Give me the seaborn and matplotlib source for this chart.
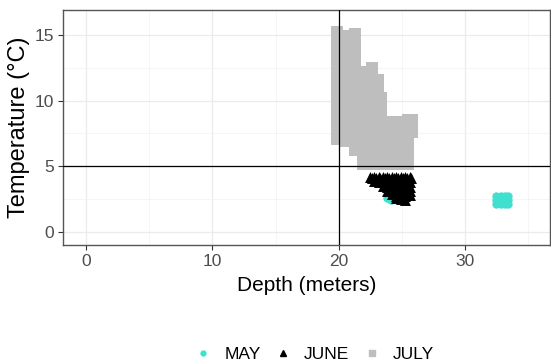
import numpy as np
import pandas as pd
import matplotlib
matplotlib.use("Agg")
import matplotlib.pyplot as plt
from matplotlib.lines import Line2D
import seaborn as sns

# ---- data ----
may_depth = [23.85, 24.15,
             32.45, 32.8, 33.15, 33.4,
             32.45, 32.8, 33.15, 33.4,
             32.45, 32.8, 33.15, 33.4]
may_temp = [2.55, 2.45,
            2.75, 2.75, 2.75, 2.75,
            2.45, 2.45, 2.45, 2.45,
            2.15, 2.15, 2.15, 2.15]

june_depth = ([22.45] + [22.8] * 2 + [23.15] * 2 + [23.5] * 3 + [23.85] * 4 +
              [24.2] * 5 + [24.55] * 6 + [24.9] * 6 + [25.25] * 6 + [25.6] * 5 +
              [22.6, 22.95, 23.3, 23.65, 24.0, 24.35, 24.7, 25.05, 25.4, 25.75])
june_temp = ([4.15] +
             [4.15, 3.85] +
             [4.15, 3.8] +
             [4.15, 3.8, 3.5] +
             [4.15, 3.8, 3.45, 3.15] +
             [4.15, 3.8, 3.45, 3.1, 2.85] +
             [4.15, 3.8, 3.45, 3.1, 2.75, 2.6] +
             [4.15, 3.8, 3.45, 3.1, 2.75, 2.5] +
             [4.15, 3.8, 3.45, 3.1, 2.75, 2.45] +
             [4.15, 3.8, 3.45, 3.1, 2.8] +
             [4.12, 4.12, 4.12, 4.12, 4.12, 4.12, 4.12, 4.12, 4.12, 4.12])

july_depth = ([19.85] * 13 + [20.55] * 13 + [21.25] * 14 + [21.95] * 11 +
              [22.65] * 12 + [23.1] * 2 + [23.35] * 8 + [24.05] * 6 + [24.75] * 6 +
              [25.45] * 6 + [25.8] * 3)
july_temp = ([7.1, 7.8, 8.5, 9.2, 9.9, 10.6, 11.3, 12.0, 12.7, 13.4, 14.1, 14.8, 15.2] +
             [6.9, 7.6, 8.3, 9.0, 9.7, 10.4, 11.1, 11.8, 12.5, 13.2, 13.9, 14.6, 14.9] +
             [6.2, 6.9, 7.6, 8.3, 9.0, 9.7, 10.4, 11.1, 11.8, 12.5, 13.2, 13.9, 14.6, 15.1] +
             [5.2, 5.9, 6.6, 7.3, 8.0, 8.7, 9.4, 10.1, 10.8, 11.5, 12.2] +
             [5.2, 5.9, 6.6, 7.3, 8.0, 8.7, 9.4, 10.1, 10.8, 11.5, 12.2, 12.5] +
             [11.0, 11.6] +
             [5.2, 5.9, 6.6, 7.3, 8.0, 8.7, 9.4, 10.2] +
             [5.2, 5.9, 6.6, 7.3, 8.0, 8.4] +
             [5.2, 5.9, 6.6, 7.3, 8.0, 8.4] +
             [5.2, 5.9, 6.6, 7.3, 8.0, 8.5] +
             [7.6, 8.0, 8.5])

months = ["MAY", "JUNE", "JULY"]
colors = {"MAY": "#40E0D0", "JUNE": "#000000", "JULY": "#BEBEBE"}
markers = {"MAY": "o", "JUNE": "^", "JULY": "s"}
sizes = {"MAY": 36, "JUNE": 62, "JULY": 72}

x_ticks = [0, 10, 20, 30]
y_ticks = [0, 5, 10, 15]
ref_depth = 20
ref_temp = 5

df = pd.concat([
    pd.DataFrame({"depth": may_depth, "temp": may_temp, "month": "MAY"}),
    pd.DataFrame({"depth": june_depth, "temp": june_temp, "month": "JUNE"}),
    pd.DataFrame({"depth": july_depth, "temp": july_temp, "month": "JULY"}),
], ignore_index=True)

sns.set_theme(style="white")
plt.rcParams["font.family"] = ["Liberation Sans", "DejaVu Sans"]

fig = plt.figure(figsize=(5.51, 3.64), dpi=100)
ax = fig.add_axes([63 / 551, 1 - 245 / 364, (550 - 63) / 551, (245 - 10) / 364])

for m in months:
    sub = df[df["month"] == m]
    sns.scatterplot(data=sub, x="depth", y="temp", ax=ax, color=colors[m],
                    marker=markers[m], s=sizes[m], linewidth=0, legend=False,
                    zorder=3)

ax.axvline(ref_depth, color="black", lw=0.9, zorder=4)
ax.axhline(ref_temp, color="black", lw=0.9, zorder=4)

ax.set_xlim(-1.8, 36.7)
ax.set_ylim(-1.0, 16.9)
ax.set_xticks(x_ticks)
ax.set_yticks(y_ticks)
ax.set_xticks([5, 15, 25, 35], minor=True)
ax.set_yticks([2.5, 7.5, 12.5], minor=True)
ax.grid(True, which="major", color="#EBEBEB", lw=0.9, zorder=0)
ax.grid(True, which="minor", color="#F2F2F2", lw=0.5, zorder=0)
ax.set_axisbelow(True)
for sp in ax.spines.values():
    sp.set_color("#555555")
    sp.set_linewidth(1.0)
ax.tick_params(axis="both", which="major", length=3.5, width=0.8, color="#333333",
               labelsize=12.5, labelcolor="#4D4D4D", pad=3, left=True, bottom=True)
ax.tick_params(axis="both", which="minor", length=0)
ax.set_xlabel("Depth (meters)", fontsize=15, color="black", labelpad=5)
ax.set_ylabel("Temperature (\u00b0C)", fontsize=17, color="black", labelpad=3)

handles = [
    Line2D([], [], linestyle="none", marker="o", color=colors["MAY"], markersize=3.5),
    Line2D([], [], linestyle="none", marker="^", color=colors["JUNE"], markersize=4.5),
    Line2D([], [], linestyle="none", marker="s", color=colors["JULY"], markersize=5),
]
leg = fig.legend(handles, months, loc="center", bbox_to_anchor=(0.572, 0.027), ncol=3,
                 frameon=False, fontsize=12.5, labelcolor="black",
                 handlelength=0.8, handletextpad=0.8, columnspacing=0.9)

fig.savefig("out.png", dpi=100)
